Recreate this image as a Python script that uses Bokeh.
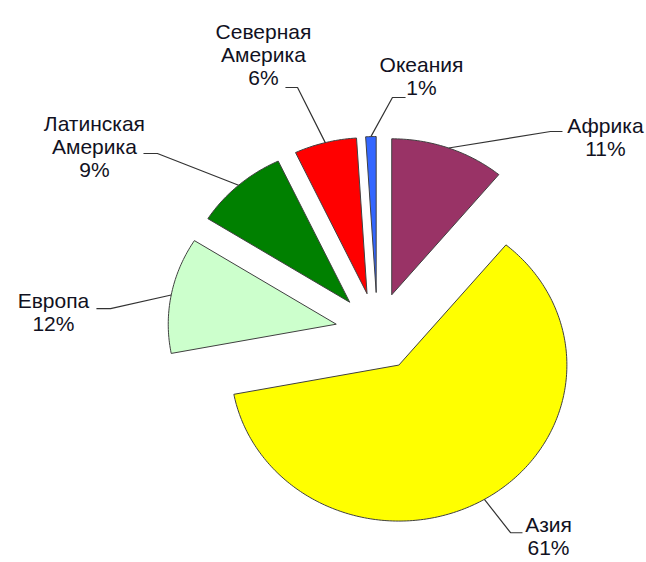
import numpy as np
from bokeh.plotting import figure
from bokeh.models import Range1d, ColumnDataSource
from bokeh.core.properties import value
from bokeh.embed import file_html
from bokeh.resources import INLINE

# ---- data (clockwise from 12 o'clock) ----
regions = ["Африка", "Азия", "Европа", "Латинская\nАмерика", "Северная\nАмерика", "Океания"]
shares = [11, 61, 12, 9, 6, 1]
colors = ["#993366", "#FFFF00", "#CCFFCC", "#008000", "#FF0000", "#3366FF"]

# ---- layout (data units: pie radius = 1) ----
explode = 0.25
# label anchor (centre x, first line centre y) per slice
label_x = [1.357, 1.018, -1.929, -1.685, -0.679, 0.262]
label_y = [1.321, -1.240, 0.199, 1.333, 1.923, 1.712]
# elbow and end point of leader lines
elbow_x = [1.030, 0.792, -1.589, -1.310, -0.476, 0.089]
elbow_y = [1.282, -1.290, 0.147, 1.141, 1.564, 1.500]
end_x = [1.101, 0.863, -1.673, -1.393, -0.548, 0.167]
end_y = [1.282, -1.290, 0.147, 1.141, 1.564, 1.500]
line_gap = 23  # px between text lines

total = float(sum(shares))
fracs = np.array(shares) / total
ends = np.cumsum(fracs) * 2 * np.pi
starts = ends - fracs * 2 * np.pi
mids = (starts + ends) / 2

xs, ys = [], []
for a0, a1, am in zip(starts, ends, mids):
    ox, oy = explode * np.sin(am), explode * np.cos(am)
    t = np.linspace(a0, a1, max(8, int((a1 - a0) * 60)))
    px = np.concatenate([[0.0], np.sin(t), [0.0]]) + ox
    py = np.concatenate([[0.0], np.cos(t), [0.0]]) + oy
    xs.append(px.tolist())
    ys.append(py.tolist())

p = figure(width=646, height=562, output_backend="svg", toolbar_location=None,
           x_range=Range1d(-377 / 168, 269 / 168), y_range=Range1d(-231 / 156, 331 / 156),
           x_axis_location=None, y_axis_location=None, min_border=0)
p.grid.visible = False
p.outline_line_color = None
p.background_fill_color = "white"

p.patches(xs, ys, fill_color=colors, line_color="#404040", line_width=1)

# leader lines
lxs, lys = [], []
for i, am in enumerate(mids):
    r = 1 + explode
    lxs.append([r * np.sin(am), elbow_x[i], end_x[i]])
    lys.append([r * np.cos(am), elbow_y[i], end_y[i]])
p.multi_line(lxs, lys, line_color="#333333", line_width=1.2)

# labels
tx, ty, tt, toff = [], [], [], []
for i, name in enumerate(regions):
    lines = name.split("\n") + [f"{shares[i]}%"]
    for k, ln in enumerate(lines):
        tx.append(label_x[i])
        ty.append(label_y[i])
        tt.append(ln)
        toff.append(k * line_gap)
src = ColumnDataSource(dict(x=tx, y=ty, text=tt, yoff=toff))
p.text(x="x", y="y", text="text", y_offset="yoff", source=src,
       text_font=value("Liberation Sans"), text_font_size="21px",
       text_color="#111122", text_align="center", text_baseline="middle")

open("out.html", "w").write(file_html(p, INLINE))
